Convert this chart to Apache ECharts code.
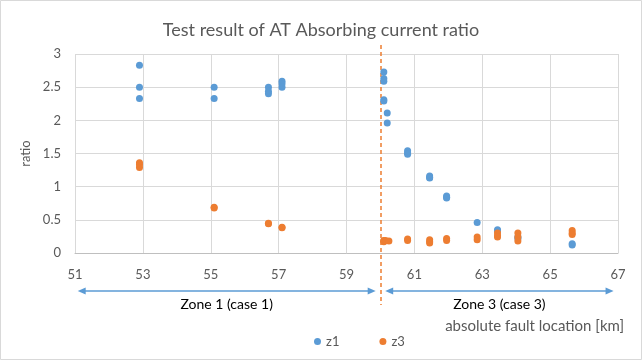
<!DOCTYPE html>
<html>
<head>
<meta charset="utf-8">
<script src="https://cdn.jsdelivr.net/npm/echarts@6/dist/echarts.min.js"></script>
<style>
html,body{margin:0;padding:0;background:#fff;}
#chart{width:642px;height:360px;}
</style>
</head>
<body>
<div id="chart"></div>
<script>
// ---- data ----
const titleText = 'Test result of AT Absorbing current ratio';
const xTitle = 'absolute fault location [km]';
const yTitle = 'ratio';
const seriesNames = ['z1', 'z3'];
const z1x = [52.9, 52.9, 52.9, 55.1, 55.1, 56.7, 56.7, 56.7, 57.1, 57.1, 57.1,
             60.1, 60.1, 60.1, 60.1, 60.1, 60.2, 60.2,
             60.8, 60.8, 60.8, 61.45, 61.45, 61.45, 61.95, 61.95, 61.95,
             62.85, 63.45, 63.45, 64.05, 64.05, 65.65, 65.65];
const z1y = [2.83, 2.50, 2.33, 2.50, 2.33, 2.50, 2.44, 2.40, 2.59, 2.55, 2.50,
             2.73, 2.63, 2.59, 2.31, 2.29, 2.11, 1.96,
             1.54, 1.51, 1.49, 1.16, 1.14, 1.13, 0.86, 0.84, 0.83,
             0.46, 0.35, 0.33, 0.24, 0.22, 0.14, 0.12];
const z3x = [52.9, 52.9, 52.9, 55.1, 55.1, 56.7, 56.7, 57.1, 57.1,
             60.1, 60.1, 60.1, 60.15, 60.25,
             60.8, 60.8, 61.45, 61.45, 61.45, 61.95, 61.95, 62.85, 62.85,
             63.45, 63.45, 63.45, 64.05, 64.05, 64.05, 65.65, 65.65, 65.65];
const z3y = [1.36, 1.33, 1.29, 0.69, 0.68, 0.44, 0.45, 0.38, 0.39,
             0.18, 0.19, 0.17, 0.19, 0.18,
             0.21, 0.19, 0.20, 0.17, 0.15, 0.22, 0.19, 0.24, 0.20,
             0.30, 0.26, 0.24, 0.30, 0.24, 0.18, 0.34, 0.30, 0.28];
const xRange = [51, 67];
const yRange = [0, 3];
const xStep = 2;
const yStep = 0.5;
const zoneDivider = 60.02;
const zone1 = {label: 'Zone 1 (case 1)', from: 51.08, to: 59.86};
const zone3 = {label: 'Zone 3 (case 3)', from: 60.14, to: 66.87};

// ---- chart ----
const FONT = 'Lato, "Open Sans", sans-serif';
const GREY = '#595959';
const BLUE = '#5B9BD5';
const ORANGE = '#ED7D31';
const pairs = (xs, ys) => xs.map((x, i) => [x, ys[i]]);

const chart = echarts.init(document.getElementById('chart'), null, {renderer: 'canvas'});
const option = {
  animation: false,
  backgroundColor: '#fff',
  textStyle: {fontFamily: FONT},
  title: {
    text: titleText, left: 'center', top: 16,
    textStyle: {fontFamily: FONT, fontSize: 18, fontWeight: 'normal', color: GREY}
  },
  grid: {left: 75, right: 24, top: 54, bottom: 107, containLabel: false},
  legend: {
    data: seriesNames, left: 309, top: 330, icon: 'circle', itemWidth: 7, itemHeight: 7,
    itemGap: 40, textStyle: {fontFamily: FONT, fontSize: 13, color: GREY}
  },
  xAxis: {
    type: 'value', min: xRange[0], max: xRange[1], interval: xStep,
    axisLine: {show: true, lineStyle: {color: '#BFBFBF'}},
    axisTick: {show: false},
    axisLabel: {color: GREY, fontSize: 13, margin: 15, fontFamily: FONT},
    splitLine: {show: true, lineStyle: {color: '#D9D9D9'}}
  },
  yAxis: {
    type: 'value', min: yRange[0], max: yRange[1], interval: yStep,
    name: yTitle, nameLocation: 'middle', nameGap: 42, nameRotate: 90,
    nameTextStyle: {color: GREY, fontSize: 13, fontFamily: FONT},
    axisLine: {show: false}, axisTick: {show: false},
    axisLabel: {color: GREY, fontSize: 13, margin: 14, fontFamily: FONT},
    splitLine: {show: true, lineStyle: {color: '#D9D9D9'}}
  },
  series: [
    {name: seriesNames[0], type: 'scatter', symbol: 'circle', symbolSize: 7, z: 5,
     itemStyle: {color: BLUE, opacity: 1}, data: pairs(z1x, z1y)},
    {name: seriesNames[1], type: 'scatter', symbol: 'circle', symbolSize: 7, z: 5,
     itemStyle: {color: ORANGE, opacity: 1}, data: pairs(z3x, z3y)}
  ]
};
chart.setOption(option);

function px(x, y) { return chart.convertToPixel({gridIndex: 0}, [x, y]); }
const arrowY = Math.round(px(xRange[0], yRange[0])[1] + 38);
function arrow(a, b, y) {
  const L = 8, W = 3.5;
  return [
    {type: 'line', shape: {x1: a + L - 1, y1: y, x2: b - L + 1, y2: y}, style: {stroke: BLUE, lineWidth: 1.5}, silent: true},
    {type: 'polygon', shape: {points: [[a, y], [a + L, y - W], [a + L, y + W]]}, style: {fill: BLUE}, silent: true},
    {type: 'polygon', shape: {points: [[b, y], [b - L, y - W], [b - L, y + W]]}, style: {fill: BLUE}, silent: true}
  ];
}
const dx = Math.round(px(zoneDivider, 0)[0]);
const topY = px(xRange[0], yRange[1])[1];
const botY = px(xRange[0], yRange[0])[1];
const z1a = px(zone1.from, 0)[0], z1b = px(zone1.to, 0)[0];
const z3a = px(zone3.from, 0)[0], z3b = px(zone3.to, 0)[0];
const graphics = [
  {type: 'rect', shape: {x: 0.5, y: 0.5, width: 641, height: 359}, style: {fill: 'none', stroke: '#D9D9D9', lineWidth: 1}, silent: true},
  {type: 'line', shape: {x1: dx, y1: topY - 9, x2: dx, y2: botY + 52}, style: {stroke: ORANGE, lineWidth: 1.5, lineDash: [4, 3]}, silent: true},
  ...arrow(z1a, z1b, arrowY),
  ...arrow(z3a, z3b, arrowY),
  {type: 'text', x: (z1a + z1b) / 2, y: arrowY + 13, style: {text: zone1.label, fill: '#000', font: '14px ' + FONT, textAlign: 'center', textVerticalAlign: 'middle'}, silent: true},
  {type: 'text', x: (z3a + z3b) / 2, y: arrowY + 13, style: {text: zone3.label, fill: '#000', font: '14px ' + FONT, textAlign: 'center', textVerticalAlign: 'middle'}, silent: true},
  {type: 'text', x: px(xRange[1], 0)[0] + 6, y: arrowY + 35, style: {text: xTitle, fill: GREY, font: '15px ' + FONT, textAlign: 'right', textVerticalAlign: 'middle'}, silent: true}
];
chart.setOption({graphic: {elements: graphics}});
</script>
</body>
</html>
